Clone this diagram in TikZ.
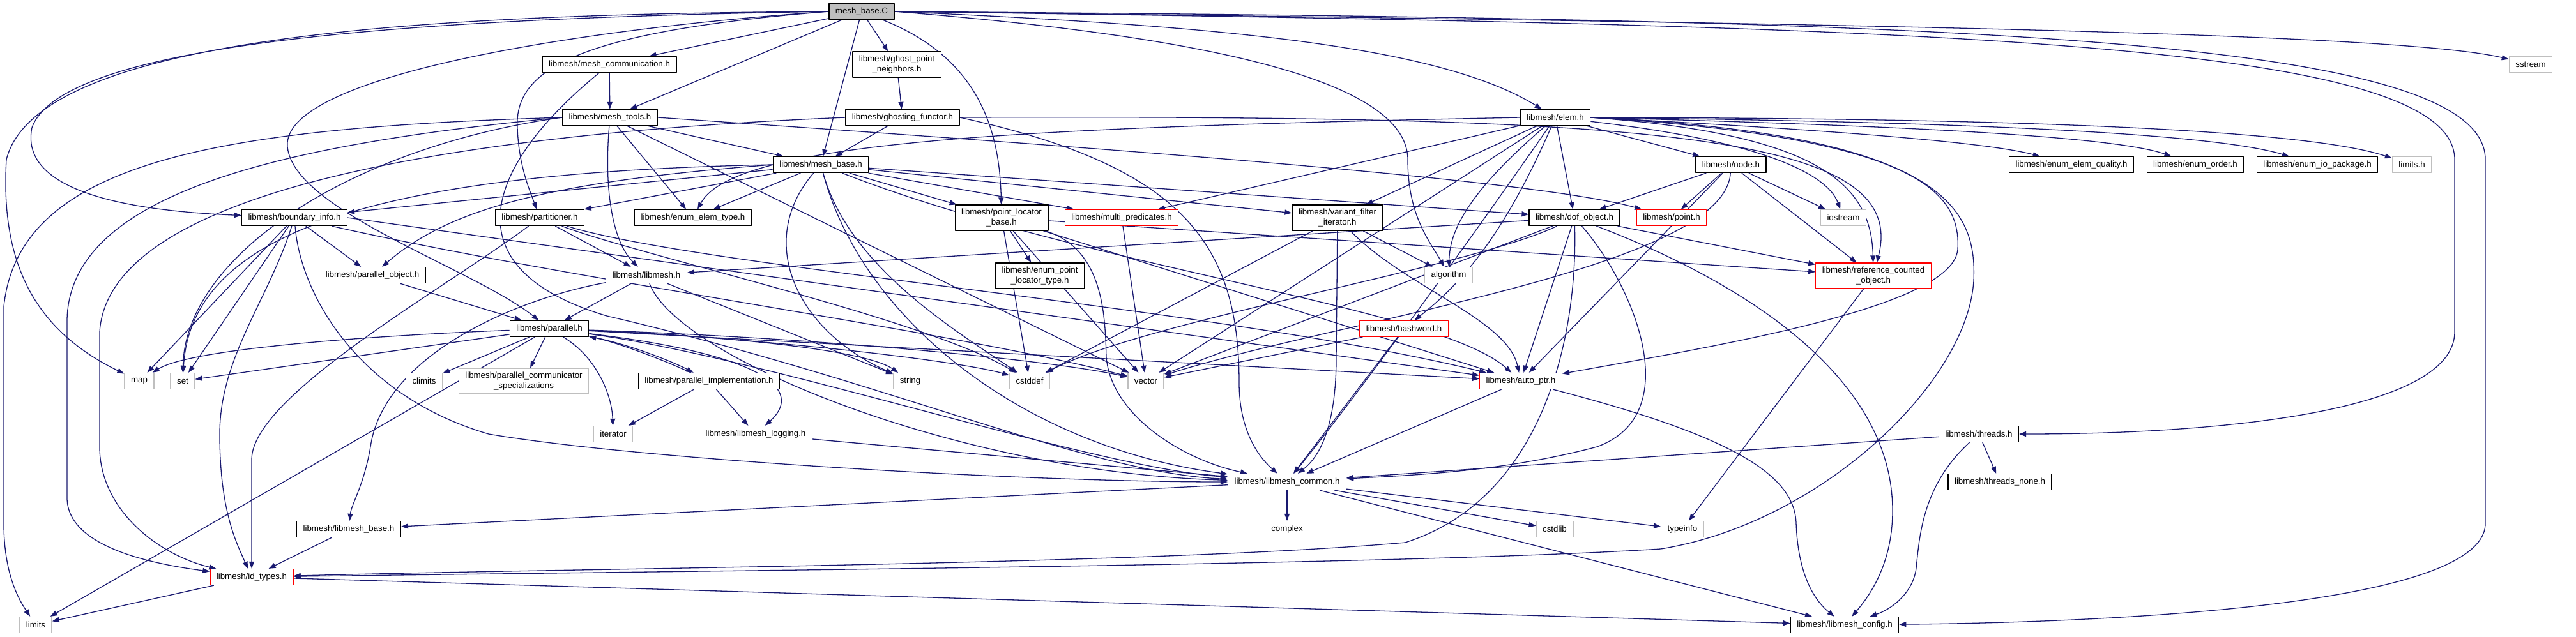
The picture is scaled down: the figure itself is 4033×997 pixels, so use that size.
\documentclass[tikz,border=0pt]{standalone}
\usepackage{fontspec}
\setmainfont{Liberation Sans}
\usetikzlibrary{arrows.meta,backgrounds}
\definecolor{edgeblue}{HTML}{191970}
\definecolor{sysgray}{HTML}{BFBFBF}
\definecolor{truncred}{HTML}{FF0000}
\tikzset{
    every picture/.style={line join=round},
    filenode/.style={draw=black,fill=white,line width=1.3pt,inner xsep=10pt,inner ysep=4pt,
      minimum height=25pt,font=\fontsize{13.3}{15.5}\selectfont,align=center},
    rootnode/.style={filenode,fill=sysgray},
    truncnode/.style={filenode,draw=truncred},
    sysnode/.style={filenode,draw=sysgray},
    twoline/.style={minimum height=40pt},
    dep/.style={draw=edgeblue,line width=1.3pt,-{Triangle[length=11pt,width=8pt]}}
}
\begin{document}
\begin{tikzpicture}[x=1pt,y=-1pt]
  \useasboundingbox (0,0) rectangle (4033,997);

  \node[rootnode] (root) at (1349,18) {mesh\_base.C};

  \node[filenode] (mcomm) at (954,101) {libmesh/mesh\_communication.h};
  \node[filenode,twoline] (gpn) at (1404,101) {libmesh/ghost\_point\\\_neighbors.h};
  \node[sysnode] (sstream) at (3962,101) {sstream};

  \node[filenode] (mtools) at (955,184) {libmesh/mesh\_tools.h};
  \node[filenode] (gfunctor) at (1413,184) {libmesh/ghosting\_functor.h};
  \node[filenode] (elem) at (2435,184) {libmesh/elem.h};

  \node[filenode] (mbaseh) at (1285,258) {libmesh/mesh\_base.h};
  \node[filenode] (node) at (2710,258) {libmesh/node.h};
  \node[filenode] (equal) at (3243,258) {libmesh/enum\_elem\_quality.h};
  \node[filenode] (eorder) at (3437,258) {libmesh/enum\_order.h};
  \node[filenode] (eio) at (3628,258) {libmesh/enum\_io\_package.h};
  \node[sysnode] (limitsh) at (3776,258) {limits.h};

  \node[filenode] (binfo) at (461,341) {libmesh/boundary\_info.h};
  \node[filenode] (part) at (845,341) {libmesh/partitioner.h};
  \node[filenode] (etype) at (1085,341) {libmesh/enum\_elem\_type.h};
  \node[filenode,twoline] (plb) at (1568,341) {libmesh/point\_locator\\\_base.h};
  \node[truncnode] (mpred) at (1756,341) {libmesh/multi\_predicates.h};
  \node[filenode,twoline] (vfi) at (2094,341) {libmesh/variant\_filter\\\_iterator.h};
  \node[filenode] (dof) at (2465,341) {libmesh/dof\_object.h};
  \node[truncnode] (point) at (2617,341) {libmesh/point.h};
  \node[sysnode] (iostream) at (2886,341) {iostream};

  \node[filenode] (pobj) at (583,431) {libmesh/parallel\_object.h};
  \node[truncnode] (libmesh) at (1012,431) {libmesh/libmesh.h};
  \node[filenode,twoline] (eplt) at (1628,432) {libmesh/enum\_point\\\_locator\_type.h};
  \node[sysnode] (algorithm) at (2268,431) {algorithm};
  \node[truncnode,twoline] (rco) at (2933,432) {libmesh/reference\_counted\\\_object.h};

  \node[filenode] (parallel) at (860,515) {libmesh/parallel.h};
  \node[truncnode] (hashword) at (2198,515) {libmesh/hashword.h};

  \node[sysnode] (map) at (218,597) {map};
  \node[sysnode] (set) at (286,597) {set};
  \node[sysnode] (climits) at (664,597) {climits};
  \node[sysnode,twoline] (pcs) at (820,597) {libmesh/parallel\_communicator\\\_specializations};
  \node[filenode] (pimpl) at (1110,597) {libmesh/parallel\_implementation.h};
  \node[sysnode] (string) at (1425,597) {string};
  \node[sysnode] (cstddef) at (1612,597) {cstddef};
  \node[sysnode] (vector) at (1794,597) {vector};
  \node[truncnode] (autoptr) at (2381,597) {libmesh/auto\_ptr.h};

  \node[sysnode] (iterator) at (960,680) {iterator};
  \node[truncnode] (logging) at (1183,680) {libmesh/libmesh\_logging.h};
  \node[filenode] (threads) at (3098,680) {libmesh/threads.h};

  \node[truncnode] (common) at (2015,755) {libmesh/libmesh\_common.h};
  \node[filenode] (tnone) at (3131,755) {libmesh/threads\_none.h};

  \node[filenode] (lbase) at (546,829) {libmesh/libmesh\_base.h};
  \node[sysnode] (complex) at (2015,829) {complex};
  \node[sysnode] (cstdlib) at (2434,829) {cstdlib};
  \node[sysnode] (typeinfo) at (2634,829) {typeinfo};

  \node[truncnode] (idtypes) at (394,904) {libmesh/id\_types.h};

  \node[sysnode] (limits) at (56,979) {limits};
  \node[filenode] (config) at (2888,979) {libmesh/libmesh\_config.h};

  \begin{scope}[on background layer]
  \fill[white] (0,0) rectangle (4033,997);

  \draw[dep] (root) -- (mcomm);
  \draw[dep] (root) -- (gpn);
  \draw[dep] (root) -- (mtools);
  \draw[dep] (root) -- (mbaseh);
  \draw[dep] (root) .. controls (1530,90) and (1565,200) .. (plb);
  \draw[dep] (root.east) .. controls (1900,40) and (2250,70) .. (elem);
  \draw[dep] (root.east) .. controls (1800,50) and (2204,110) .. (2204,250) .. controls (2204,340) and (2240,380) .. (algorithm);
  \draw[dep] (root.east) .. controls (2800,35) and (3750,50) .. (sstream);
  \draw[dep] (root.east) .. controls (3000,40) and (3843,60) .. (3843,250) -- (3843,520) .. controls (3843,640) and (3500,680) .. (threads);
  \draw[dep] (root.east) .. controls (3000,30) and (3891,50) .. (3891,250) -- (3891,820) .. controls (3891,950) and (3300,975) .. (config);
  \draw[dep] (root.west) .. controls (700,22) and (60,50) .. (10,250) .. controls (0,420) and (60,520) .. (map);
  \draw[dep] (root.west) .. controls (700,28) and (100,60) .. (50,200) .. controls (30,300) and (200,330) .. (binfo);
  \draw[dep] (root.west) .. controls (900,45) and (440,120) .. (450,230) .. controls (460,330) and (740,420) .. (parallel);
  \draw[dep] (root.west) .. controls (900,50) and (805,110) .. (810,200) .. controls (812,260) and (830,300) .. (part);

  \draw[dep] (mcomm) -- (mtools);
  \draw[dep] (mcomm) .. controls (760,260) and (700,420) .. (950,495) .. controls (1400,600) and (1700,740) .. (common);
  \draw[dep] (gpn) -- (gfunctor);

  \draw[dep] (mtools) -- (mbaseh);
  \draw[dep] (mtools) -- (etype);
  \draw[dep] (mtools) .. controls (945,300) and (960,380) .. (libmesh);
  \draw[dep] (mtools.west) .. controls (350,200) and (30,250) .. (6,480) -- (6,820) .. controls (6,900) and (30,940) .. (limits);
  \draw[dep] (mtools.west) .. controls (450,225) and (110,300) .. (105,500) -- (105,780) .. controls (105,860) and (250,885) .. (idtypes);
  \draw[dep] (mtools.west) .. controls (550,230) and (290,400) .. (set);
  \draw[dep] (mtools.east) .. controls (1700,230) and (2400,280) .. (point);
  \draw[dep] (mtools) -- (vector);

  \draw[dep] (gfunctor) -- (mbaseh);
  \draw[dep] (gfunctor.west) .. controls (700,210) and (170,300) .. (156,520) -- (156,700) .. controls (156,800) and (250,870) .. (idtypes);
  \draw[dep] (gfunctor.east) .. controls (1850,260) and (1940,380) .. (1940,600) .. controls (1940,680) and (1975,720) .. (common);
  \draw[dep] (gfunctor.east) .. controls (2600,180) and (2990,210) .. (rco);

  \draw[dep] (elem) -- (node);
  \draw[dep] (elem) -- (dof);
  \draw[dep] (elem) -- (vfi);
  \draw[dep] (elem) .. controls (2750,220) and (2860,270) .. (iostream);
  \draw[dep] (elem.east) .. controls (2800,200) and (3100,220) .. (equal);
  \draw[dep] (elem.east) .. controls (2900,195) and (3300,210) .. (eorder);
  \draw[dep] (elem.east) .. controls (3000,190) and (3450,205) .. (eio);
  \draw[dep] (elem.east) .. controls (3100,185) and (3600,200) .. (limitsh);
  \draw[dep] (elem.east) .. controls (2850,210) and (2930,290) .. (rco);
  \draw[dep] (elem) .. controls (2300,300) and (2270,360) .. (algorithm);
  \draw[dep] (elem) -- (mpred);
  \draw[dep] (elem.west) .. controls (1600,200) and (1150,220) .. (etype);
  \draw[dep] (elem) .. controls (2250,450) and (2100,650) .. (common);
  \draw[dep] (elem.east) .. controls (3000,215) and (3070,300) .. (3065,390) .. controls (3060,480) and (2700,540) .. (autoptr);
  \draw[dep] (elem) .. controls (2350,380) and (2280,450) .. (hashword);
  \draw[dep] (elem.east) .. controls (3050,210) and (3095,330) .. (3090,440) .. controls (3080,600) and (2850,820) .. (2600,860) .. controls (2200,885) and (1200,893) .. (idtypes);
  \draw[dep] (elem) -- (vector);

  \draw[dep] (mbaseh) -- (binfo);
  \draw[dep] (mbaseh) -- (part);
  \draw[dep] (mbaseh) -- (etype);
  \draw[dep] (mbaseh) -- (plb);
  \draw[dep] (mbaseh) -- (mpred);
  \draw[dep] (mbaseh) -- (vfi);
  \draw[dep] (mbaseh) -- (dof);
  \draw[dep] (mbaseh.west) .. controls (850,285) and (700,330) .. (pobj);
  \draw[dep] (mbaseh.west) .. controls (600,270) and (300,360) .. (set);
  \draw[dep] (mbaseh) .. controls (1180,380) and (1250,520) .. (string);
  \draw[dep] (mbaseh) .. controls (1330,420) and (1500,520) .. (cstddef);
  \draw[dep] (mbaseh) .. controls (1350,500) and (1600,700) .. (common);
  \draw[dep] (mbaseh) .. controls (1700,420) and (2250,480) .. (autoptr);

  \draw[dep] (node) -- (dof);
  \draw[dep] (node) -- (point);
  \draw[dep] (node) -- (iostream);
  \draw[dep] (node) -- (rco);
  \draw[dep] (node) -- (autoptr);
  \draw[dep] (node) .. controls (2700,420) and (2100,500) .. (vector);

  \draw[dep] (binfo) -- (pobj);
  \draw[dep] (binfo) .. controls (420,470) and (344,560) .. (344,680) .. controls (344,800) and (370,850) .. (idtypes);
  \draw[dep] (binfo) -- (map);
  \draw[dep] (binfo) -- (set);
  \draw[dep] (binfo) .. controls (470,460) and (560,620) .. (765,680) .. controls (1000,720) and (1600,755) .. (common);
  \draw[dep] (binfo.east) -- (autoptr);
  \draw[dep] (binfo) .. controls (900,440) and (1500,520) .. (vector);

  \draw[dep] (part) -- (libmesh);
  \draw[dep] (part) .. controls (700,450) and (394,620) .. (394,720) -- (idtypes);
  \draw[dep] (part) .. controls (1100,420) and (1900,480) .. (autoptr);
  \draw[dep] (part) .. controls (1000,400) and (1450,500) .. (cstddef);

  \draw[dep] (plb) -- (eplt);
  \draw[dep] (plb) -- (rco);
  \draw[dep] (plb) .. controls (1730,390) and (1730,500) .. (1732,560) .. controls (1740,650) and (1850,720) .. (common);
  \draw[dep] (plb) -- (autoptr);
  \draw[dep] (plb) -- (cstddef);
  \draw[dep] (plb) -- (vector);

  \draw[dep] (mpred) -- (vector);

  \draw[dep] (vfi) -- (algorithm);
  \draw[dep] (vfi) -- (2092,560) .. controls (2092,680) and (2060,720) .. (common);
  \draw[dep] (vfi) .. controls (2200,450) and (2360,500) .. (autoptr);
  \draw[dep] (vfi) -- (cstddef);

  \draw[dep] (dof) -- (libmesh);
  \draw[dep] (dof) -- (rco);
  \draw[dep] (dof) .. controls (2560,450) and (2640,650) .. (2500,700) .. controls (2350,740) and (2200,745) .. (common);
  \draw[dep] (dof) -- (autoptr);
  \draw[dep] (dof) .. controls (2470,520) and (2420,780) .. (2200,850) .. controls (1800,885) and (900,890) .. (idtypes);
  \draw[dep] (dof) .. controls (2750,450) and (2963,600) .. (2963,800) .. controls (2963,880) and (2930,930) .. (config);
  \draw[dep] (dof) .. controls (2300,420) and (1800,500) .. (cstddef);
  \draw[dep] (dof) -- (vector);

  \draw[dep] (libmesh) -- (parallel);
  \draw[dep] (libmesh) .. controls (800,470) and (600,560) .. (580,700) .. controls (570,760) and (550,790) .. (lbase);
  \draw[dep] (libmesh) .. controls (1060,560) and (1500,740) .. (common);
  \draw[dep] (libmesh) -- (string);

  \draw[dep] (pobj) -- (parallel);

  \draw[dep] (parallel) .. controls (600,525) and (300,545) .. (map);
  \draw[dep] (parallel) -- (set);
  \draw[dep] (parallel) -- (climits);
  \draw[dep] (parallel) -- (pcs);
  \draw[dep] (parallel) .. controls (990,540) and (1060,570) .. (pimpl);
  \draw[dep] (pimpl) .. controls (1030,560) and (960,535) .. (parallel);
  \draw[dep] (parallel) .. controls (935,560) and (958,620) .. (iterator);
  \draw[dep] (parallel) -- (limits);
  \draw[dep] (parallel) .. controls (1100,525) and (1350,545) .. (string);
  \draw[dep] (parallel) .. controls (1200,530) and (1500,565) .. (cstddef);
  \draw[dep] (parallel) .. controls (1300,530) and (1650,565) .. (vector);
  \draw[dep] (parallel) .. controls (1200,560) and (1700,730) .. (common);
  \draw[dep] (parallel) -- (autoptr);
  \draw[dep] (parallel) .. controls (1230,560) and (1250,620) .. (logging);

  \draw[dep] (pimpl) -- (iterator);
  \draw[dep] (pimpl) -- (logging);

  \draw[dep] (hashword) -- (common);
  \draw[dep] (hashword) -- (vector);

  \draw[dep] (autoptr) -- (common);
  \draw[dep] (autoptr) .. controls (2700,680) and (2810,740) .. (2812,820) .. controls (2815,900) and (2840,940) .. (config);

  \draw[dep] (logging) -- (common);

  \draw[dep] (threads) -- (common);
  \draw[dep] (threads) -- (tnone);
  \draw[dep] (threads) .. controls (3010,760) and (3005,840) .. (3000,890) .. controls (2995,930) and (2960,955) .. (config);

  \draw[dep] (common) -- (lbase);
  \draw[dep] (common) -- (complex);
  \draw[dep] (common) -- (cstdlib);
  \draw[dep] (common) -- (typeinfo);
  \draw[dep] (common) -- (config);

  \draw[dep] (rco) -- (typeinfo);
  \draw[dep] (lbase) -- (idtypes);
  \draw[dep] (idtypes) -- (limits);
  \draw[dep] (idtypes) -- (config);
  \end{scope}
\end{tikzpicture}
\end{document}
